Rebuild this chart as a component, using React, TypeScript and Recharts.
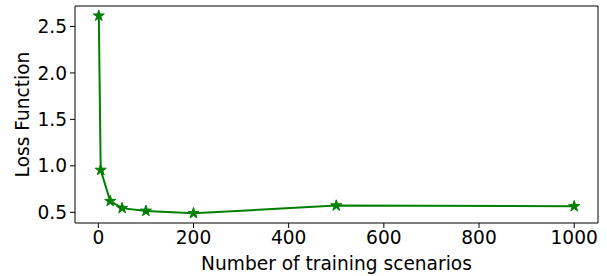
import React from 'react';
import { LineChart, Line, XAxis, YAxis, Symbols, ReferenceLine } from 'recharts';

// Training set size vs. loss
const scenarios = [1, 5, 25, 50, 100, 200, 500, 1000];
const lossValues = [2.615, 0.955, 0.62, 0.545, 0.515, 0.49, 0.572, 0.565];
const xTicks = [0, 200, 400, 600, 800, 1000];
const yTicks = [0.5, 1.0, 1.5, 2.0, 2.5];
const xDomain = [-49, 1050];
const yDomain = [0.385, 2.72];

const data = scenarios.map((s, i) => ({ scenarios: s, loss: lossValues[i] }));

const FONT = 'DejaVu Sans, sans-serif';
const tickStyle = { fill: '#000', fontSize: 18.6, fontFamily: FONT };

const StarDot = (props: any) => {
  const { cx, cy } = props;
  if (cx == null || cy == null) return null;
  return <Symbols cx={cx} cy={cy} type="star" size={38} fill="#008000" stroke="#008000" />;
};

export default function App() {
  return (
    <div style={{ position: 'absolute', left: 0, top: 0, background: '#fff' }}>
      <LineChart
        width={607}
        height={276}
        data={data}
        margin={{ top: 6, right: 9, left: 0, bottom: 0 }}
      >
        <XAxis
          dataKey="scenarios"
          type="number"
          domain={xDomain}
          ticks={xTicks}
          allowDataOverflow
          height={53}
          tick={tickStyle}
          tickSize={5}
          tickMargin={3}
          axisLine={{ stroke: '#000' }}
          tickLine={{ stroke: '#000' }}
          label={{
            value: 'Number of training scenarios',
            position: 'insideBottom',
            offset: 6,
            style: { fill: '#000', fontSize: 18.6, fontFamily: FONT },
          }}
        />
        <YAxis
          type="number"
          domain={yDomain}
          ticks={yTicks}
          allowDataOverflow
          width={75}
          tick={tickStyle}
          tickSize={5}
          tickMargin={3}
          tickFormatter={(v) => v.toFixed(1)}
          axisLine={{ stroke: '#000' }}
          tickLine={{ stroke: '#000' }}
          label={{
            value: 'Loss Function',
            angle: -90,
            position: 'insideLeft',
            offset: 22,
            style: { fill: '#000', fontSize: 18.6, fontFamily: FONT, textAnchor: 'middle' },
          }}
        />
        {/* top and right frame lines */}
        <ReferenceLine y={yDomain[1]} stroke="#000" strokeWidth={1} />
        <ReferenceLine x={xDomain[1]} stroke="#000" strokeWidth={1} />
        <Line
          type="linear"
          dataKey="loss"
          stroke="#008000"
          strokeWidth={2}
          dot={<StarDot />}
          activeDot={false}
          isAnimationActive={false}
        />
      </LineChart>
    </div>
  );
}
